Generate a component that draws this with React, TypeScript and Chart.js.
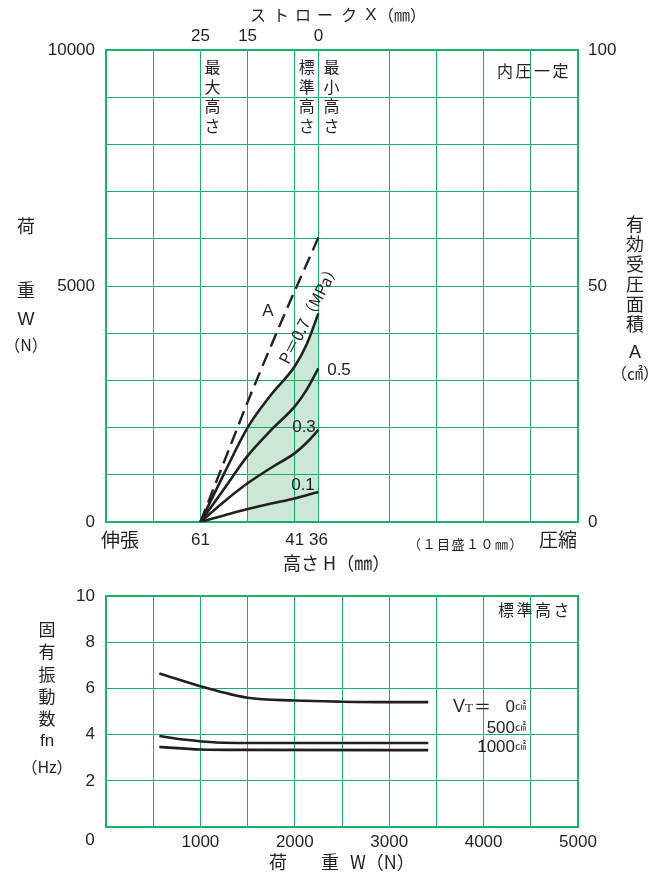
import React, { useEffect, useRef } from 'react';
import { Chart, registerables } from 'chart.js';

Chart.register(...registerables);

// ---------- Top chart data (height H in mm, load W in N, area A in cm²) ----------
const heights = [61, 56, 51, 46, 41, 38.5, 36];
const load07 = [0, 1020, 2000, 2700, 3300, 3760, 4420];
const load05 = [0, 700, 1400, 1950, 2450, 2800, 3256];
const load03 = [0, 430, 820, 1150, 1460, 1680, 1950];
const load01 = [0, 140, 275, 390, 500, 565, 636];
const areaA = [0, 12.7, 25.4, 37.4, 49, 54.6, 60.3];
const shadeHeights = [51, 46, 41, 38.5, 36];
const shadeLoad = [2000, 2700, 3300, 3760, 4420];
const gridHeights = [81, 71, 61, 51, 41, 36, 21, 11, 1, -9, -19];
const heightLabels = [61, 41, 36];
const strokeTicks = [25, 15, 0];
const loadLabels = [0, 5000, 10000];
const areaLabels = [0, 50, 100];

// ---------- Bottom chart data (load W in N, natural frequency fn in Hz) ----------
const loadV0 = [565, 1000, 1500, 2000, 2500, 3000, 3414];
const fnV0 = [6.65, 6.1, 5.6, 5.48, 5.43, 5.41, 5.41];
const loadV500 = [565, 820, 1170, 1500, 3414];
const fnV500 = [3.94, 3.79, 3.66, 3.64, 3.64];
const loadV1000 = [565, 1000, 1500, 3414];
const fnV1000 = [3.47, 3.36, 3.34, 3.33];
const loadTickLabels = [1000, 2000, 3000, 4000, 5000];

const GREEN = 'rgb(24,176,106)';
const FILL = 'rgba(20,150,70,0.22)';
const INK = '#231f20';
const NUM = '"Liberation Sans", Arial, sans-serif';
const JP = '"Noto Sans CJK JP", "Noto Sans", sans-serif';

type TOpts = { align?: CanvasTextAlign; family?: string; spacing?: number };
function t(ctx: CanvasRenderingContext2D, s: string, x: number, y: number, size: number, o: TOpts = {}) {
  ctx.save();
  ctx.font = `${size}px ${o.family ?? JP}`;
  ctx.fillStyle = INK;
  ctx.textAlign = o.align ?? 'center';
  ctx.textBaseline = 'middle';
  if (o.spacing) (ctx as any).letterSpacing = o.spacing + 'px';
  ctx.fillText(s, x, y);
  ctx.restore();
}
function vert(ctx: CanvasRenderingContext2D, s: string, x: number, y0: number, step: number, size: number) {
  Array.from(s).forEach((c, i) => t(ctx, c, x, y0 + i * step, size));
}

const tickFont = { family: NUM, size: 17 };

const topText = {
  id: 'topText',
  afterDraw(chart: any) {
    const ctx = chart.ctx as CanvasRenderingContext2D;
    const xs = chart.scales.x;
    // left title
    t(ctx, '荷', 26, 226, 18);
    t(ctx, '重', 26, 290, 18);
    t(ctx, 'W', 26, 320, 18, { family: NUM });
    t(ctx, '（N）', 26, 345, 16);
    // right title
    vert(ctx, '有効受圧面積', 635, 224, 20, 18);
    t(ctx, 'A', 635, 353, 18, { family: NUM });
    t(ctx, '（㎠）', 635, 373, 16);
    // top title
    const tt = ['ス', 'ト', 'ロ', 'ー', 'ク'];
    const tx = [258, 281, 303, 325, 349];
    tt.forEach((c, i) => t(ctx, c, tx[i], 15, 16));
    t(ctx, 'X', 371, 15, 17, { family: NUM });
    t(ctx, '（㎜）', 378, 15, 16, { align: 'left' });
    // bottom labels
    t(ctx, '伸張', 120, 540, 19);
    t(ctx, '圧縮', 558, 540, 19);
    t(ctx, '（１目盛１０㎜）', 408, 544, 13, { align: 'left', spacing: 1.5 });
    t(ctx, '高さ H（㎜）', 283, 563, 18, { align: 'left' });
    // vertical height labels
    vert(ctx, '最大高さ', xs.getPixelForValue(61) + 12, 67, 19.5, 16);
    vert(ctx, '標準高さ', xs.getPixelForValue(41) + 12, 67, 19.5, 16);
    vert(ctx, '最小高さ', xs.getPixelForValue(36) + 13, 67, 19.5, 16);
    t(ctx, '内圧一定', 497, 71, 16, { align: 'left', spacing: 2.5 });
    // curve labels
    t(ctx, 'A', 268, 311, 17, { family: NUM });
    ctx.save();
    ctx.translate(309, 313);
    ctx.rotate(-62.5 * Math.PI / 180);
    t(ctx, 'P＝0.7（MPa）', 0, 0, 16);
    ctx.restore();
    t(ctx, '0.5', 339, 370, 17, { family: NUM });
    t(ctx, '0.3', 304, 427, 17, { family: NUM });
    t(ctx, '0.1', 303, 485, 17, { family: NUM });
  },
};

const botText = {
  id: 'botText',
  afterDraw(chart: any) {
    const ctx = chart.ctx as CanvasRenderingContext2D;
    const ys = [55, 77, 100, 122, 144];
    Array.from('固有振動数').forEach((c, i) => t(ctx, c, 47, ys[i], 17));
    t(ctx, 'fn', 47, 166, 17, { family: NUM });
    t(ctx, '（Hz）', 47, 192, 16);
    t(ctx, '0', 90, 265, 17, { family: NUM });
    t(ctx, '荷', 278, 287, 18);
    t(ctx, '重', 330, 287, 18);
    t(ctx, 'W（N）', 350, 287, 18, { align: 'left' });
    t(ctx, '標準高さ', 498, 35, 16, { align: 'left', spacing: 2.5 });
    // legend text
    t(ctx, 'V', 453, 132, 18, { align: 'left', family: NUM });
    t(ctx, 'T', 465, 134, 13, { align: 'left', family: '"Liberation Serif", serif' });
    t(ctx, '＝', 474, 132, 17, { align: 'left' });
    t(ctx, '0', 515, 132, 17, { align: 'right', family: NUM });
    t(ctx, '㎠', 515, 131, 11, { align: 'left' });
    t(ctx, '500', 515, 153, 17, { align: 'right', family: NUM });
    t(ctx, '㎠', 515, 152, 11, { align: 'left' });
    t(ctx, '1000', 515, 172, 17, { align: 'right', family: NUM });
    t(ctx, '㎠', 515, 171, 11, { align: 'left' });
  },
};

function pts(xsArr: number[], ysArr: number[]) {
  return xsArr.map((x, i) => ({ x, y: ysArr[i] }));
}

function line(data: any[], extra: any = {}) {
  return {
    data,
    borderColor: INK,
    borderWidth: 2.6,
    pointRadius: 0,
    fill: false,
    cubicInterpolationMode: 'monotone',
    ...extra,
  };
}

const border = { color: GREEN, width: 2 };

function topConfig(): any {
  return {
    type: 'line',
    data: {
      datasets: [
        line(pts(heights, areaA), { yAxisID: 'y2', borderDash: [14, 7], borderWidth: 2.4 }),
        line(pts(heights, load07)),
        line(pts(heights, load05)),
        line(pts(heights, load03)),
        line(pts(heights, load01)),
        line(pts(shadeHeights, shadeLoad), { borderWidth: 0, borderColor: 'rgba(0,0,0,0)', fill: 'origin', backgroundColor: FILL }),
      ],
    },
    options: {
      responsive: false,
      animation: false,
      events: [],
      layout: { padding: 0 },
      plugins: { legend: { display: false }, tooltip: { enabled: false } },
      scales: {
        x: {
          type: 'linear', position: 'bottom', min: -19, max: 81, reverse: true,
          afterBuildTicks: (s: any) => { s.ticks = gridHeights.map((v) => ({ value: v })); },
          afterFit: (s: any) => { s.height = 53; },
          grid: { color: GREEN, lineWidth: 1, drawTicks: false },
          border,
          ticks: { padding: 8, font: tickFont, color: INK, autoSkip: false, maxRotation: 0,
            callback: (v: number) => (heightLabels.includes(v) ? String(v) : '') },
        },
        xTop: {
          type: 'linear', position: 'top', min: -55, max: 45, reverse: true,
          afterBuildTicks: (s: any) => { s.ticks = strokeTicks.map((v) => ({ value: v })); },
          afterFit: (s: any) => { s.height = 50; },
          grid: { display: false, drawTicks: false },
          border,
          ticks: { padding: 3, font: tickFont, color: INK, autoSkip: false, maxRotation: 0 },
        },
        y: {
          type: 'linear', position: 'left', min: 0, max: 10000,
          afterFit: (s: any) => { s.width = 106; },
          grid: { color: GREEN, lineWidth: 1, drawTicks: false },
          border,
          ticks: { stepSize: 1000, padding: 11, font: tickFont, color: INK, autoSkip: false,
            callback: (v: number) => (loadLabels.includes(v) ? String(v) : '') },
        },
        y2: {
          type: 'linear', position: 'right', min: 0, max: 100,
          afterFit: (s: any) => { s.width = 87; },
          grid: { display: false, drawTicks: false },
          border,
          ticks: { stepSize: 10, padding: 10, font: tickFont, color: INK, autoSkip: false,
            callback: (v: number) => (areaLabels.includes(v) ? String(v) : '') },
        },
      },
    },
    plugins: [topText],
  };
}

function botConfig(): any {
  return {
    type: 'line',
    data: {
      datasets: [
        line(pts(loadV0, fnV0)),
        line(pts(loadV500, fnV500)),
        line(pts(loadV1000, fnV1000)),
      ],
    },
    options: {
      responsive: false,
      animation: false,
      events: [],
      layout: { padding: 0 },
      plugins: { legend: { display: false }, tooltip: { enabled: false } },
      scales: {
        x: {
          type: 'linear', position: 'bottom', min: 0, max: 5000,
          afterFit: (s: any) => { s.height = 53; },
          grid: { color: GREEN, lineWidth: 1, drawTicks: false },
          border,
          ticks: { stepSize: 500, padding: 5, font: tickFont, color: INK, autoSkip: false, maxRotation: 0,
            callback: (v: number) => (loadTickLabels.includes(v) ? String(v) : '') },
        },
        xTop: {
          type: 'linear', position: 'top', min: 0, max: 5000,
          afterFit: (s: any) => { s.height = 16; },
          grid: { display: false, drawTicks: false },
          border,
          ticks: { display: false },
        },
        y: {
          type: 'linear', position: 'left', min: 0, max: 10,
          afterFit: (s: any) => { s.width = 106; },
          grid: { color: GREEN, lineWidth: 1, drawTicks: false },
          border,
          ticks: { stepSize: 2, padding: 11, font: tickFont, color: INK, autoSkip: false,
            callback: (v: number) => (v === 0 ? '' : String(v)) },
        },
        y2: {
          type: 'linear', position: 'right', min: 0, max: 10,
          afterFit: (s: any) => { s.width = 87; },
          grid: { display: false, drawTicks: false },
          border,
          ticks: { display: false },
        },
      },
    },
    plugins: [botText],
  };
}

export default function App() {
  const topRef = useRef<HTMLCanvasElement>(null);
  const botRef = useRef<HTMLCanvasElement>(null);
  useEffect(() => {
    const top = new Chart(topRef.current!, topConfig());
    const bot = new Chart(botRef.current!, botConfig());
    return () => {
      top.destroy();
      bot.destroy();
    };
  }, []);
  return (
    <div style={{ position: 'absolute', left: 0, top: 0, width: 665, height: 880, background: '#fff' }}>
      <canvas ref={topRef} width={665} height={575} style={{ position: 'absolute', left: 0, top: 0 }} />
      <canvas ref={botRef} width={665} height={305} style={{ position: 'absolute', left: 0, top: 575 }} />
    </div>
  );
}
